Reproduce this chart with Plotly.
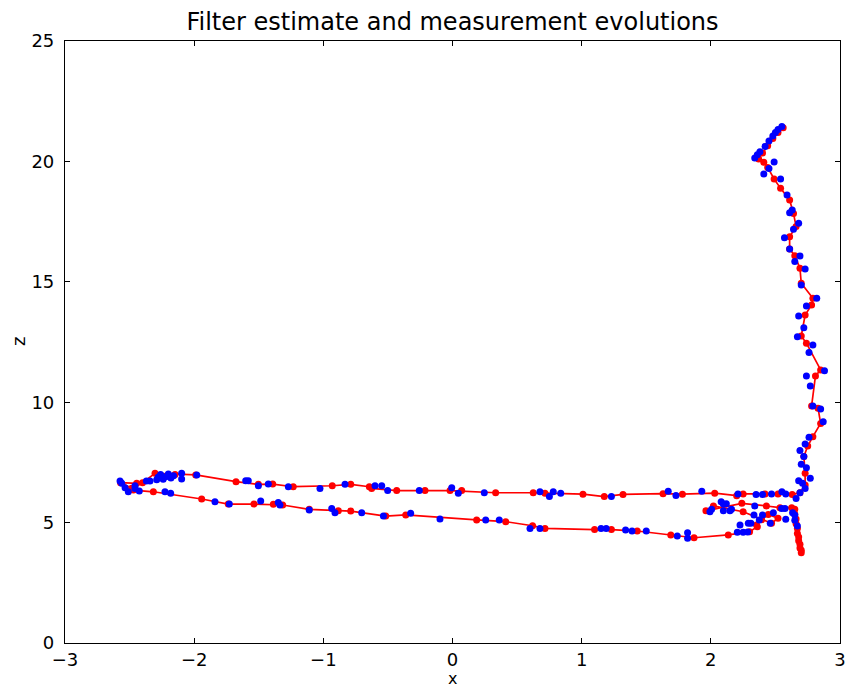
import plotly.graph_objects as go

# Filter estimate (red line with dots), in time order
est_x = [2.56, 2.52, 2.48, 2.44, 2.40, 2.37, 2.41, 2.44, 2.49, 2.54, 2.61, 2.64, 2.66, 2.61,
         2.61, 2.65, 2.69, 2.70, 2.79, 2.78, 2.73, 2.70, 2.74, 2.85, 2.81, 2.78, 2.83, 2.85,
         2.79, 2.75, 2.72, 2.73, 2.73, 2.69,
         2.63, 2.52, 2.42, 2.25, 2.20, 2.03, 1.78, 1.63, 1.32, 1.175, 1.01, 0.716, 0.625, 0.334,
         0.071, -0.019, -0.213, -0.432, -0.626, -0.644, -0.788, -0.931, -1.233, -1.392, -1.503,
         -1.676, -1.988, -2.148, -2.303, -2.40, -2.445, -2.57, -2.484, -2.47,
         -2.316, -1.942, -1.736, -1.537, -1.387, -1.315, -1.109, -0.884, -0.788, -0.517, -0.362,
         0.187, 0.412, 0.62, 0.716, 1.10, 1.23, 1.43, 1.69, 1.87, 2.135, 2.30, 2.36,
         2.354, 2.393, 2.445, 2.52, 2.47, 2.25, 2.02, 1.962, 2.24, 2.43, 2.535, 2.626, 2.65,
         2.65, 2.66, 2.66, 2.67, 2.67, 2.68, 2.68, 2.69, 2.69, 2.70, 2.70]
est_z = [21.40, 21.20, 20.95, 20.65, 20.35, 20.10, 19.96, 19.75, 19.27, 18.88, 18.40, 17.84, 17.30, 16.87,
         16.36, 16.08, 15.56, 14.94, 14.32, 14.04, 13.62, 12.75, 12.45, 11.34, 11.09, 9.84, 9.75, 9.12,
         8.57, 8.18, 7.74, 7.05, 6.56, 6.24,
         6.17, 6.19, 6.19, 6.19, 6.12, 6.22, 6.18, 6.20, 6.17, 6.08, 6.18, 6.22, 6.24, 6.24,
         6.33, 6.33, 6.33, 6.33, 6.42, 6.49, 6.59, 6.53, 6.49, 6.60, 6.59,
         6.70, 6.98, 7.00, 7.05, 6.66, 6.63, 6.66, 6.43, 6.35,
         6.28, 5.98, 5.77, 5.77, 5.76, 5.73, 5.55, 5.49, 5.48, 5.27, 5.32,
         5.11, 5.04, 4.87, 4.76, 4.71, 4.71, 4.65, 4.49, 4.37, 4.49, 4.62, 4.83,
         4.90, 5.12, 5.34, 5.18, 4.97, 5.45, 5.69, 5.49, 5.80, 5.69, 5.62, 5.62, 5.55,
         5.35, 5.15, 4.95, 4.75, 4.55, 4.40, 4.25, 4.10, 3.95, 3.85, 3.75]

# Measurements (blue dots)
meas_x = [2.55, 2.52, 2.50, 2.48, 2.45, 2.42, 2.38, 2.36, 2.34,
          2.49, 2.45, 2.41, 2.54, 2.59, 2.63, 2.61, 2.68, 2.64, 2.57, 2.61, 2.69, 2.65, 2.73,
          2.70, 2.82, 2.74, 2.68, 2.72, 2.67, 2.79, 2.76, 2.88, 2.74, 2.77, 2.79, 2.85, 2.87,
          2.76, 2.73, 2.69, 2.72, 2.70, 2.74, 2.77, 2.68, 2.71, 2.73, 2.69,
          2.66, 2.58, 2.55, 2.47, 2.40, 2.35, 2.21, 1.93, 1.73, 1.67, 1.23, 0.838, 0.78, 0.75,
          0.677, 0.246, 0.045, -0.006, -0.257, -0.502, -0.548, -0.60, -0.832, -1.026, -1.271,
          -1.426, -1.503, -1.581, -1.601, -1.98, -2.097, -2.097, -2.16, -2.18, -2.20, -2.22,
          -2.24, -2.26, -2.28, -2.29, -2.342, -2.37, -2.458, -2.574, -2.561, -2.535, -2.51,
          -2.458, -2.425,
          -2.226, -2.182, -1.839, -1.728, -1.485, -1.349, -1.336, -1.109, -0.935, -0.91, -0.703,
          -0.535, -0.324, -0.097, 0.257, 0.362, 0.60, 0.677, 1.15, 1.19, 1.34, 1.39, 1.50,
          1.74, 1.82, 1.82,
          2.205, 2.25, 2.285, 2.226, 2.29, 2.31, 2.375, 2.40, 2.334, 2.484, 2.58, 2.46, 1.993,
          2.006, 2.08, 2.097, 2.12, 2.097, 2.148, 2.16, 2.34, 2.548, 2.574, 2.633, 2.65, 2.65,
          2.67]
meas_z = [21.45, 21.32, 21.20, 21.05, 20.85, 20.62, 20.40, 20.28, 20.14,
          19.97, 19.71, 19.48, 19.27, 18.60, 17.98, 17.87, 17.43, 17.18, 16.83, 16.36, 16.07, 15.84, 15.53,
          14.87, 14.32, 14.00, 13.58, 13.09, 12.72, 12.38, 12.06, 11.31, 11.09, 10.67, 9.84, 9.72, 9.19,
          8.54, 8.26, 7.99, 7.74, 7.42, 7.28, 6.84, 6.74, 6.63, 6.42, 6.24,
          6.00, 6.19, 6.28, 6.19, 6.17, 6.17, 6.19, 6.30, 6.13, 6.30, 6.08, 6.22, 6.28, 6.08,
          6.28, 6.24, 6.22, 6.45, 6.33, 6.33, 6.53, 6.53, 6.59, 6.42, 6.49,
          6.60, 6.53, 6.74, 6.74, 6.98, 7.05, 6.81, 6.95, 6.85, 7.02, 6.90,
          6.80, 7.00, 6.88, 6.78, 6.73, 6.73, 6.53, 6.73, 6.63, 6.45, 6.28,
          6.42, 6.31,
          6.28, 6.22, 5.87, 5.77, 5.90, 5.83, 5.73, 5.52, 5.59, 5.41, 5.41,
          5.27, 5.39, 5.15, 5.11, 5.11, 4.76, 4.76, 4.76, 4.76, 4.69, 4.65, 4.65,
          4.44, 4.58, 4.35,
          4.60, 4.60, 4.61, 4.90, 4.97, 4.97, 5.11, 5.32, 5.32, 5.41, 5.14, 4.97, 5.45,
          5.55, 5.87, 5.77, 5.78, 5.49, 5.49, 5.55, 5.69, 5.59, 5.59, 5.41, 5.32, 5.10,
          4.86]

x_ticks = [-3, -2, -1, 0, 1, 2, 3]
z_ticks = [0, 5, 10, 15, 20, 25]

fig = go.Figure()
fig.add_trace(go.Scatter(x=est_x, y=est_z, mode="lines+markers",
                         line=dict(color="#ff0000", width=1.7),
                         marker=dict(color="#ff0000", size=7),
                         name="estimate"))
fig.add_trace(go.Scatter(x=meas_x, y=meas_z, mode="markers",
                         marker=dict(color="#0000ff", size=7),
                         name="measurement"))

font = "DejaVu Sans"
axis_common = dict(showline=True, linecolor="black", linewidth=1.2, mirror="allticks",
                   ticks="inside", ticklen=5, tickcolor="black", tickwidth=1,
                   showgrid=False, zeroline=False, automargin=False,
                   tickfont=dict(family=font, size=18, color="black"))
fig.update_layout(
    width=849, height=688,
    margin=dict(l=65, r=9, t=41, b=45, autoexpand=False),
    paper_bgcolor="white", plot_bgcolor="white",
    showlegend=False,
    title=dict(text="Filter estimate and measurement evolutions", x=0.5, xanchor="center",
               xref="paper", y=1 - 22 / 688, yanchor="middle",
               font=dict(family=font, size=24, color="black")),
    xaxis=dict(range=[-3, 3], tickvals=x_ticks, ticklabelstandoff=0, **axis_common),
    yaxis=dict(range=[0, 25], tickvals=z_ticks, ticklabelstandoff=6, **axis_common),
    annotations=[
        dict(text="x", xref="paper", yref="paper", x=0.5, y=-35 / 602, xanchor="center",
             yanchor="middle", showarrow=False, borderpad=0,
             font=dict(family=font, size=16, color="black")),
        dict(text="z", xref="paper", yref="paper", x=-47 / 775, y=0.5, xanchor="center",
             yanchor="middle", textangle=-90, showarrow=False, borderpad=0,
             font=dict(family=font, size=18, color="black")),
    ],
)
fig.write_html("out.html")
